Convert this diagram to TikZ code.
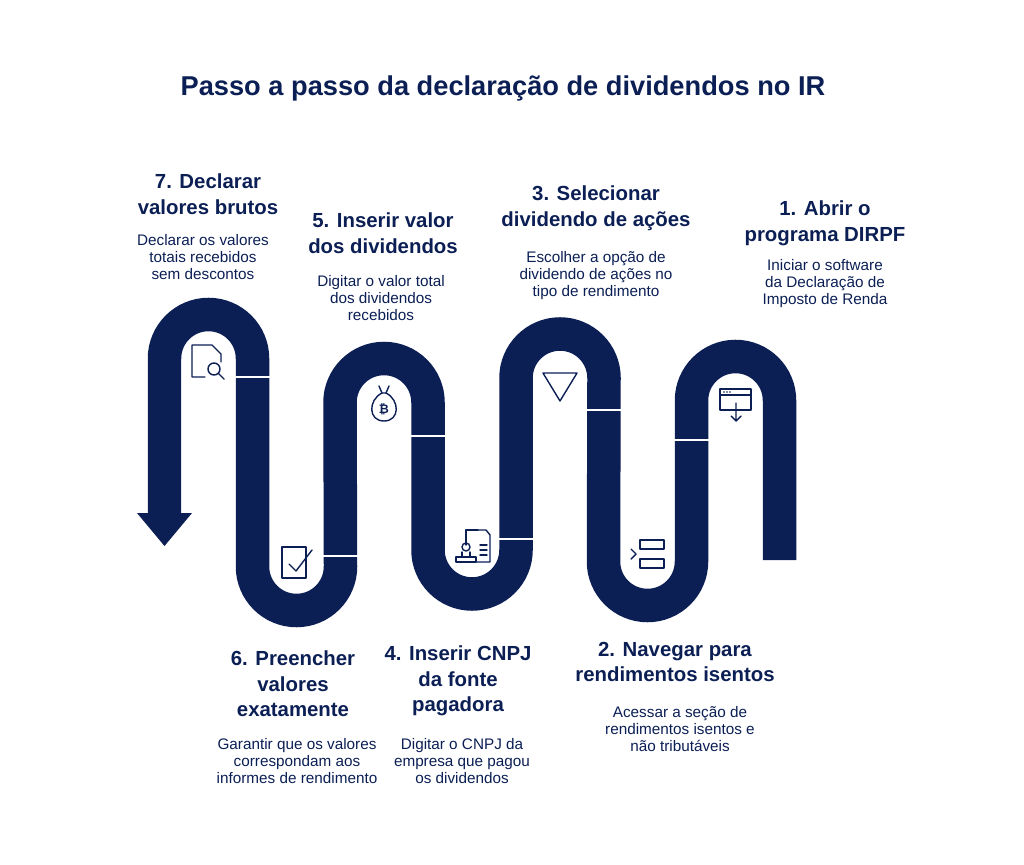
\documentclass[tikz,border=0pt]{standalone}
\usepackage{fontspec}
\setmainfont{Liberation Sans}
\definecolor{navy}{HTML}{0B1F55}
\tikzset{heading/.style={align=center, text=navy, font=\fontsize{11.6}{14.6}\selectfont\bfseries},
  body/.style={align=center, text=navy, font=\fontsize{8.7}{9.7}\selectfont},
  icon/.style={draw=navy, line width=0.8pt, line join=round, line cap=round},
  divider/.style={draw=white, line width=1pt}}
\begin{document}
\begin{tikzpicture}[x=0.02cm,y=-0.02cm]
\useasboundingbox (0,0) rectangle (1024,865);
\node[text=navy, font=\fontsize{15.5}{18}\selectfont\bfseries] (title) at (503,88) {Passo a passo da declaração de dividendos no IR};
% the road
\draw[navy, line width=0.67cm] (779.5,560) -- (779.5,400.5) arc (0:-180:44) -- (691.5,561.5) arc (0:180:44)
  -- (604,378) arc (0:-180:44) -- (516,550) arc (0:180:44) -- (428,402.5) arc (0:-180:44)
  -- (340.5,566.5) arc (0:180:44) -- (252.5,358.5) arc (0:-180:44) -- (164.5,514);
\fill[navy] (137,513) -- (192,513) -- (164.5,546) -- cycle;
\draw[divider] (674,440) -- (709,440);
\draw[divider] (586,410) -- (621,410);
\draw[divider] (498,539) -- (534,539);
\draw[divider] (411,436) -- (446,436);
\draw[divider] (322,556) -- (358,556);
\draw[divider] (235,377) -- (270,377);
% icons
\draw[icon] (720,389) rectangle (751,410); \draw[icon] (720,395) -- (751,395);
\draw[icon] (736,403) -- (736,421) (731,416) -- (736,421) -- (741,416);
\fill[navy] (724,392) circle (0.8) (727,392) circle (0.8) (730,392) circle (0.8);
\draw[icon] (543,373) -- (577,373) -- (560,401) -- cycle;
\draw[icon] (640,540) rectangle (664,549) (640,559) rectangle (664,568);
\draw[icon] (631,549) -- (636,554) -- (631,559);
\draw[icon] (386,393) .. controls (400,400) and (400,421) .. (384,421) .. controls (368,421) and (368,400) .. (382,393) -- (386,393);
\draw[icon] (379,386) -- (382,393) (389,386) -- (386,393);
\node[text=navy, font=\bfseries\fontsize{7}{7}\selectfont] (coin) at (384,409) {₿};
\draw[icon] (478,530) -- (486,530) -- (490,535) -- (490,562) -- (466,562);
\draw[icon] (478,530) -- (466,530) -- (466,545);
\draw[icon] (480,545) -- (487,545) (480,550) -- (487,550) (480,555) -- (487,555);
\draw[icon] (456,557) rectangle (476,562) (462,557) -- (462,552) (470,557) -- (470,552);
\draw[icon] (466,547) circle (4);
\draw[icon] (282,547) rectangle (306,578);
\draw[icon] (289,564) -- (296,571) -- (312,550);
\draw[icon] (192,345) -- (212,345) -- (221,354) -- (221,362) (205,377) -- (192,377) -- (192,345);
\draw[icon] (214,369) circle (6) (218,373) -- (224,379);
% step texts
\node[heading] (h1) at (825,223) {1. Abrir o\\programa DIRPF};
\node[body] (b1) at (825,284) {Iniciar o software\\da Declaração de\\Imposto de Renda};
\node[heading] (h2) at (675,662) {2. Navegar para\\rendimentos isentos};
\node[body] (b2) at (680,729) {Acessar a seção de\\rendimentos isentos e\\não tributáveis};
\node[heading] (h3) at (596,208) {3. Selecionar\\dividendo de ações};
\node[body] (b3) at (596,276) {Escolher a opção de\\dividendo de ações no\\tipo de rendimento};
\node[heading] (h4) at (458,681) {4. Inserir CNPJ\\da fonte\\pagadora};
\node[body] (b4) at (462,761) {Digitar o CNPJ da\\empresa que pagou\\os dividendos};
\node[heading] (h5) at (383,233) {5. Inserir valor\\dos dividendos};
\node[body] (b5) at (381,298) {Digitar o valor total\\dos dividendos\\recebidos};
\node[heading] (h6) at (293,684) {6. Preencher\\valores\\exatamente};
\node[body] (b6) at (297,761) {Garantir que os valores\\correspondam aos\\informes de rendimento};
\node[heading] (h7) at (208,194) {7. Declarar\\valores brutos};
\node[body] (b7) at (203,257) {Declarar os valores\\totais recebidos\\sem descontos};
\end{tikzpicture}
\end{document}
